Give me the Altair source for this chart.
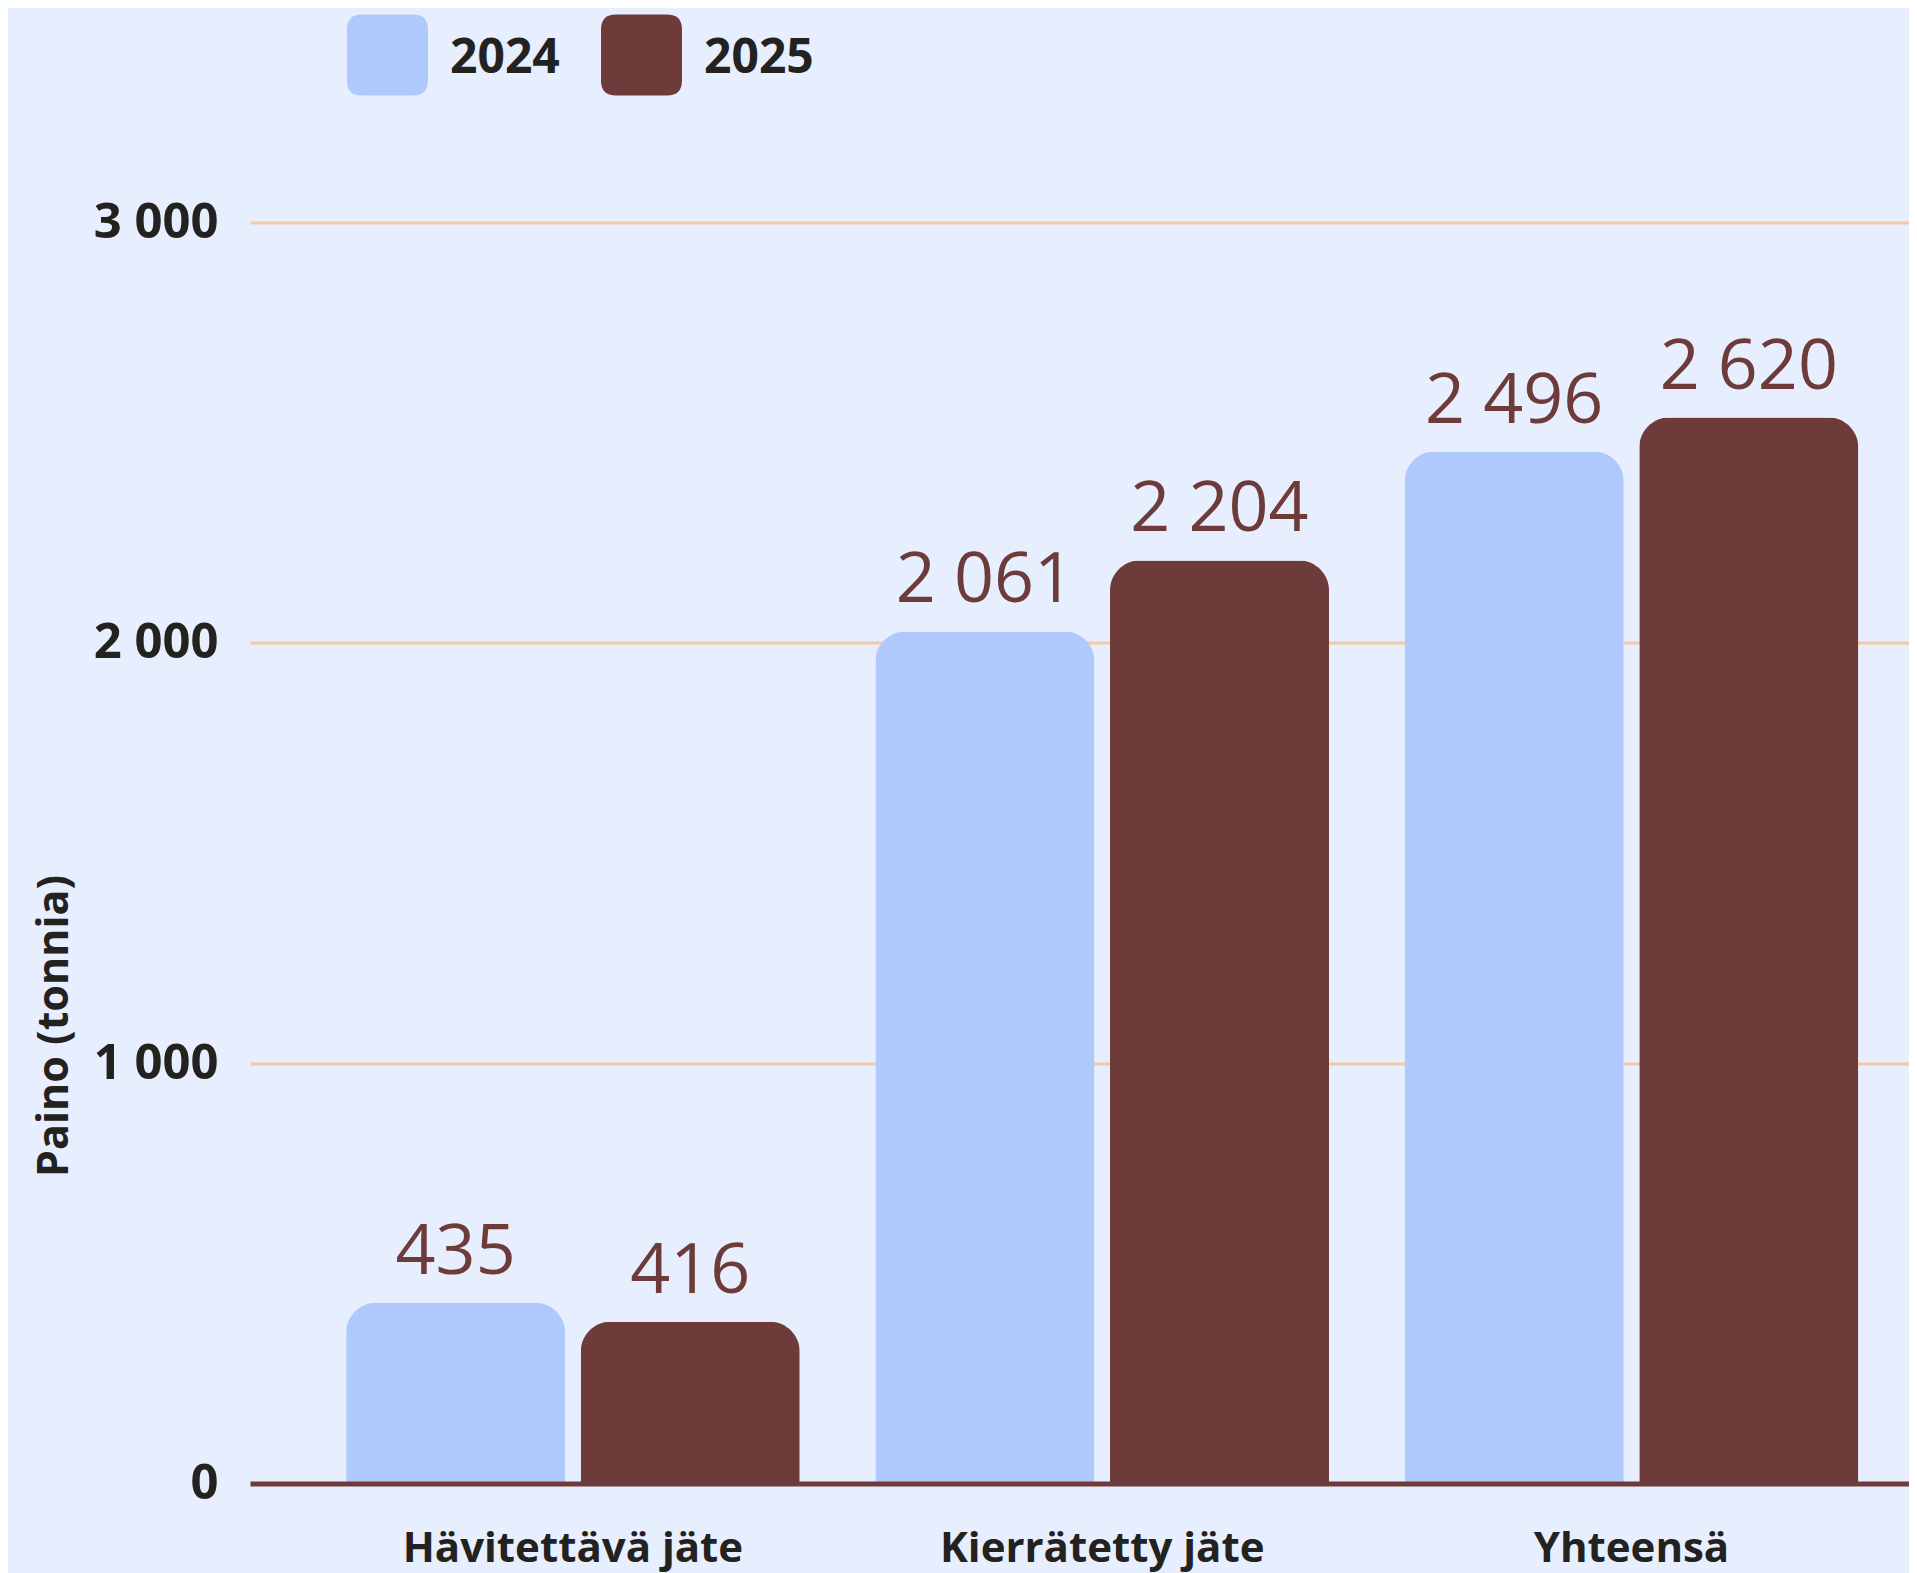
import altair as alt
import pandas as pd

categories = ["Hävitettävä jäte", "Kierrätetty jäte", "Yhteensä"]
years = ["2024", "2025"]
# bar heights as drawn in the picture
bar_2024 = [430, 2027, 2455]
bar_2025 = [385, 2196, 2536]
# value labels printed above the bars
label_2024 = ["435", "2 061", "2 496"]
label_2025 = ["416", "2 204", "2 620"]
y_ticks = [0, 1000, 2000, 3000]

colors = ["#b0c9fd", "#6e3b3b"]
bg = "#e7eefd"
ink = "#23221f"
font = "Open Sans"

rows = []
for i, c in enumerate(categories):
    rows.append({"category": c, "year": years[0], "value": bar_2024[i], "label": label_2024[i]})
    rows.append({"category": c, "year": years[1], "value": bar_2025[i], "label": label_2025[i]})
df = pd.DataFrame(rows)

# rounded square legend swatch (shifted slightly up relative to the label)
r = 0.63
t, b = -1.1, 0.9
sym = (f"M-{r},{t} H{r} Q1,{t} 1,{t + 0.37} V{b - 0.37} Q1,{b} {r},{b} "
       f"H-{r} Q-1,{b} -1,{b - 0.37} V{t + 0.37} Q-1,{t} -{r},{t} Z")

x_enc = alt.X(
    "category:N", sort=categories,
    scale=alt.Scale(paddingInner=0.143, paddingOuter=0.1387, align=0.6546),
    axis=alt.Axis(title=None, labelAngle=0, labelFont=font, labelFontSize=42,
                  labelFontWeight="bold", labelColor=ink, labelPadding=45,
                  labelLimit=0, ticks=False, domainColor="#6e3b3b",
                  domainWidth=5, grid=False, zindex=1),
)
xo_enc = alt.XOffset("year:N", sort=years,
                     scale=alt.Scale(paddingInner=0.0664, paddingOuter=0))
y_enc = alt.Y(
    "value:Q",
    scale=alt.Scale(domain=[0, 3000], nice=False, zero=True),
    axis=alt.Axis(values=y_ticks, title="Paino (tonnia)", titleFont=font,
                  titleFontSize=43, titleFontWeight="bold", titleColor=ink,
                  titleAngle=270, titleX=-196, titleY=803, titleAlign="center",
                  titleBaseline="middle",
                  labelExpr="replace(format(datum.value, ','), ',', ' ')",
                  labelFont=font, labelFontSize=49, labelFontWeight="bold",
                  labelColor=ink, labelPadding=32, ticks=False, domain=False,
                  grid=True, gridColor="#f3c9a5", gridWidth=3),
)

bars = alt.Chart(df).mark_bar(cornerRadiusTopLeft=30, cornerRadiusTopRight=30).encode(
    x=x_enc,
    xOffset=xo_enc,
    y=y_enc,
    color=alt.Color(
        "year:N", sort=years,
        scale=alt.Scale(domain=years, range=colors),
        legend=alt.Legend(orient="none", legendX=97, legendY=-204,
                          direction="horizontal", title=None, padding=0,
                          symbolType=sym, symbolSize=6561, symbolStrokeWidth=0,
                          symbolOpacity=1, labelFont=font, labelFontSize=48,
                          labelFontWeight="bold", labelColor=ink, labelOffset=22,
                          columnPadding=41),
    ),
)

texts = alt.Chart(df).mark_text(
    dy=-29, baseline="alphabetic", align="center", font=font, fontSize=70,
    color="#6e3b3b",
).encode(
    x=alt.X("category:N", sort=categories),
    xOffset=alt.XOffset("year:N", sort=years),
    y=alt.Y("value:Q"),
    text="label:N",
)

chart = alt.layer(bars, texts).properties(
    width=1659, height=1261,
    background=bg,
    padding={"left": 242, "top": 214.5, "right": 0, "bottom": 110},
    autosize=alt.AutoSizeParams(type="none"),
).configure_view(stroke=None)

chart.save("out.html", embed_options={"renderer": "svg", "actions": False})
